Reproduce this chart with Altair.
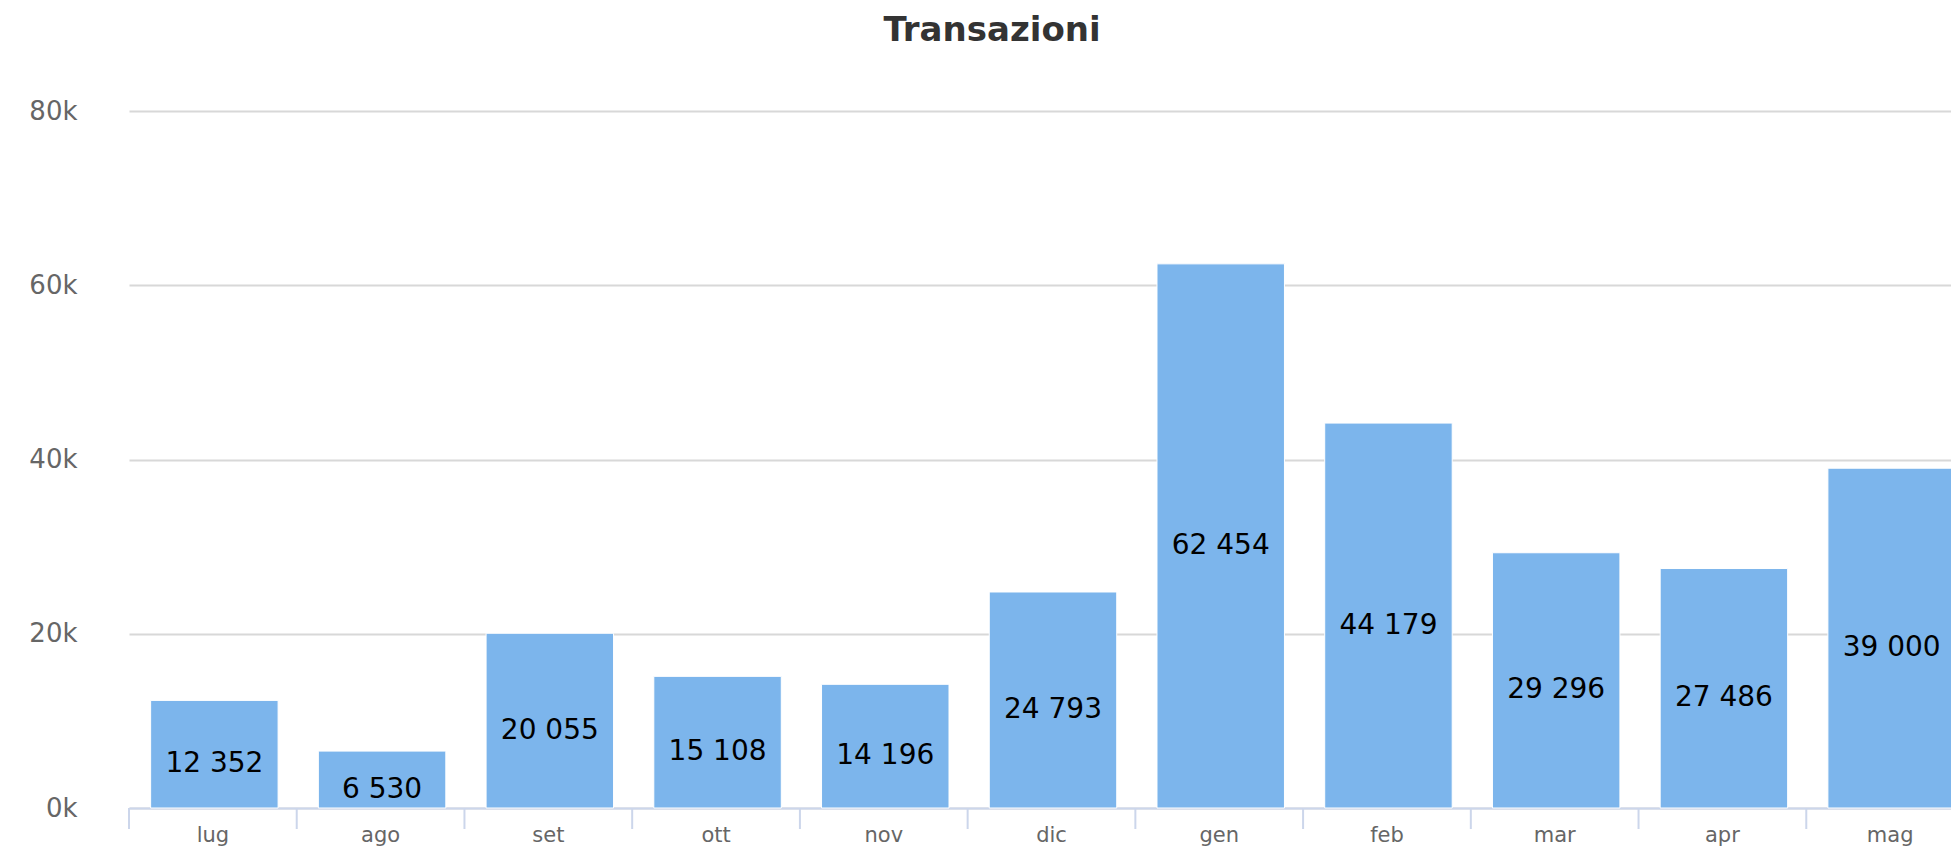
import altair as alt
import pandas as pd

# ---- data ----
months = ["lug", "ago", "set", "ott", "nov", "dic", "gen", "feb", "mar", "apr", "mag"]
values = [12352, 6530, 20055, 15108, 14196, 24793, 62454, 44179, 29296, 27486, 39000]
y_ticks = [0, 20000, 40000, 60000, 80000]
title_text = "Transazioni"

df = pd.DataFrame({"mese": months, "transazioni": values})

PAD_L = 121
PLOT_W = 1943 - PAD_L
PLOT_H = 697
FONT = "DejaVu Sans"

x_scale = alt.Scale(domain=months, range=[0, 1845], paddingInner=0, paddingOuter=0)
y_scale = alt.Scale(domain=[0, 80000], nice=False, zero=True)

base = alt.Chart(df)

bars = base.mark_bar(
    color="#7cb5ec", width=alt.RelativeBandSize(0.76), stroke="white", strokeWidth=1,
    xOffset=1.5,
).encode(
    x=alt.X(
        "mese:N",
        scale=x_scale,
        sort=months,
        axis=alt.Axis(
            title=None,
            labelAngle=0,
            ticks=False,
            tickSize=0,
            domainColor="#ccd6eb",
            domainWidth=2,
            labelFont=FONT,
            labelFontSize=21,
            labelColor="#666666",
            labelPadding=16,
            grid=False,
        ),
    ),
    y=alt.Y(
        "transazioni:Q",
        scale=y_scale,
        axis=alt.Axis(
            title=None,
            values=y_ticks,
            labelExpr="datum.value / 1000 + 'k'",
            domain=False,
            ticks=False,
            tickSize=0,
            grid=True,
            gridColor="#d8d8d8",
            gridWidth=2,
            labelPadding=52,
            labelFontSize=26,
            labelColor="#666666",
            labelFont=FONT,
        ),
    ),
)

seps = base.mark_rule(color="#ccd6eb", strokeWidth=2).encode(
    x=alt.X("mese:N", bandPosition=0, sort=months, scale=x_scale),
    y=alt.value(PLOT_H),
    y2=alt.value(PLOT_H + 21),
)

labels = base.transform_calculate(
    half="datum.transazioni / 2",
    lab="replace(format(datum.transazioni, ','), ',', ' ')",
).mark_text(
    font=FONT, fontSize=28, color="black", baseline="middle", dy=10, dx=1.5
).encode(
    x=alt.X("mese:N", sort=months, scale=x_scale),
    y=alt.Y("half:Q", scale=y_scale),
    text="lab:N",
)

chart = (
    alt.layer(bars, seps, labels)
    .properties(
        width=PLOT_W,
        height=PLOT_H,
        padding={"left": PAD_L, "top": 103, "right": 0, "bottom": 39},
        autosize=alt.AutoSizeParams(type="none"),
        title=alt.TitleParams(
            title_text,
            font=FONT,
            fontSize=34,
            fontWeight="bold",
            color="#333333",
            anchor="middle",
            dx=-48,
            offset=50,
        ),
    )
    .configure_view(stroke=None)
)

chart.save("out.html", embed_options={"renderer": "svg", "actions": False})
